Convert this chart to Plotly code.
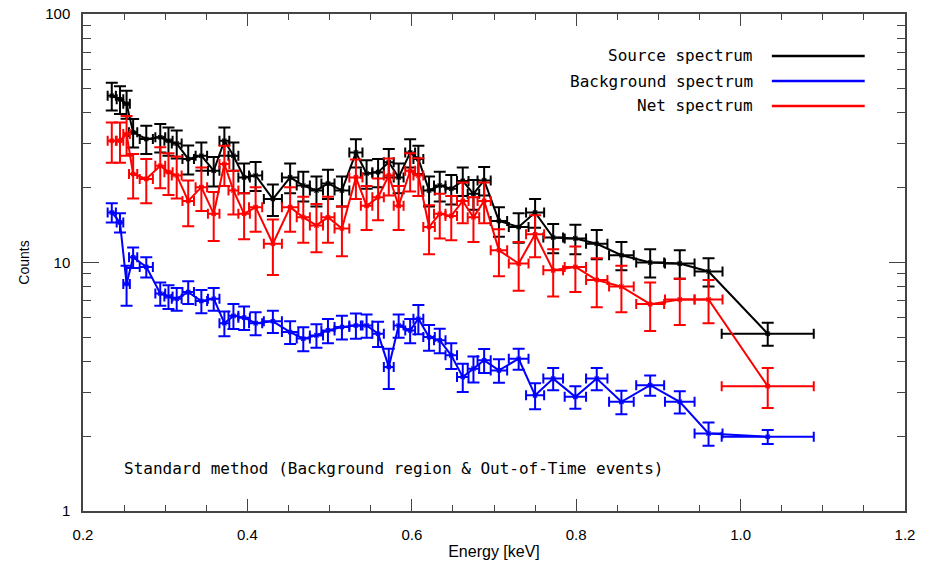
import plotly.graph_objects as go

energy = [0.235, 0.245, 0.253, 0.261, 0.277, 0.294, 0.304, 0.314, 0.328, 0.344,
          0.359, 0.372, 0.383, 0.396, 0.410, 0.431, 0.452, 0.468, 0.484, 0.498,
          0.515, 0.532, 0.545, 0.559, 0.572, 0.584, 0.598, 0.608, 0.621, 0.634,
          0.648, 0.662, 0.675, 0.688, 0.706, 0.730, 0.750, 0.772, 0.799, 0.825,
          0.855, 0.890, 0.926, 0.961, 1.033]
energy_err = [0.005, 0.004, 0.004, 0.005, 0.008, 0.006, 0.005, 0.006, 0.007, 0.007,
              0.007, 0.006, 0.006, 0.007, 0.008, 0.011, 0.010, 0.008, 0.008, 0.008,
              0.009, 0.008, 0.007, 0.007, 0.006, 0.006, 0.006, 0.006, 0.007, 0.007,
              0.007, 0.007, 0.007, 0.008, 0.010, 0.012, 0.011, 0.012, 0.013, 0.013,
              0.015, 0.017, 0.018, 0.017, 0.056]

source = [46.9, 45.4, 43.5, 33.4, 31.4, 31.9, 30.9, 30.1, 26.1, 26.9,
          23.4, 30.9, 26.9, 22.0, 22.4, 18.0, 22.0, 20.4, 19.5, 20.8,
          19.5, 27.7, 22.8, 23.1, 25.3, 22.0, 27.7, 26.1, 19.5, 20.4,
          19.8, 21.3, 18.9, 21.4, 14.7, 13.9, 15.9, 12.6, 12.5, 11.9,
          10.7, 10.0, 9.9, 9.2, 5.17]
source_err = [6.0, 5.8, 5.6, 4.4, 4.1, 4.2, 4.0, 3.9, 3.5, 3.5,
              3.2, 4.0, 3.5, 3.0, 3.0, 2.6, 3.0, 2.8, 2.7, 2.8,
              2.7, 3.6, 3.0, 3.0, 3.3, 3.0, 3.6, 3.4, 2.7, 2.8,
              2.7, 2.8, 2.6, 2.8, 2.0, 1.9, 2.1, 1.7, 1.7, 1.6,
              1.4, 1.3, 1.3, 1.2, 0.55]

background = [15.9, 14.5, 8.2, 10.5, 9.6, 7.5, 7.3, 7.15, 7.6, 7.0,
              7.15, 5.7, 6.1, 6.0, 5.7, 5.8, 5.25, 4.94, 5.09, 5.33,
              5.5, 5.58, 5.58, 5.17, 3.8, 5.58, 5.33, 5.94, 5.01, 4.86,
              4.23, 3.46, 3.74, 4.04, 3.68, 4.1, 2.92, 3.41, 2.88, 3.41,
              2.75, 3.21, 2.75, 2.05, 1.99]
background_err = [1.4, 1.3, 1.5, 1.0, 0.9, 0.8, 0.8, 0.75, 0.8, 0.75,
                  0.75, 0.65, 0.7, 0.65, 0.6, 0.6, 0.55, 0.55, 0.55, 0.6,
                  0.6, 0.65, 0.6, 0.6, 0.7, 0.6, 0.6, 0.8, 0.6, 0.55,
                  0.5, 0.45, 0.45, 0.45, 0.4, 0.4, 0.35, 0.35, 0.3, 0.35,
                  0.3, 0.3, 0.28, 0.22, 0.13]

net = [30.9, 30.9, 32.9, 22.7, 21.7, 24.5, 23.1, 22.4, 17.7, 20.1,
       15.7, 24.9, 19.5, 15.7, 16.7, 11.9, 16.7, 15.2, 14.1, 15.2,
       13.7, 22.0, 16.9, 18.3, 22.4, 16.9, 23.4, 22.4, 13.9, 15.7,
       15.4, 17.7, 15.2, 17.7, 11.2, 9.9, 13.0, 9.3, 9.6, 8.5,
       8.0, 6.8, 7.1, 7.1, 3.18]
net_err = [5.7, 5.7, 6.0, 4.6, 4.4, 4.6, 4.4, 4.3, 3.7, 4.0,
           3.5, 4.6, 3.9, 3.3, 3.4, 3.0, 3.4, 3.2, 3.1, 3.2,
           3.1, 4.0, 3.4, 3.5, 3.8, 3.4, 4.1, 3.9, 3.1, 3.2,
           3.1, 3.3, 3.1, 3.3, 2.4, 2.2, 2.5, 2.0, 2.0, 1.9,
           1.7, 1.5, 1.5, 1.4, 0.58]

series = [
    ("Source spectrum", source, source_err, "#000000"),
    ("Background spectrum", background, background_err, "#0000ff"),
    ("Net spectrum", net, net_err, "#ff0000"),
]

fig = go.Figure()
for name, vals, errs, col in series:
    fig.add_trace(go.Scatter(
        x=energy, y=vals, name=name, mode="lines+markers",
        line=dict(color=col, width=2),
        marker=dict(symbol="asterisk-open", size=5, color=col, line=dict(color=col, width=1.2)),
        error_x=dict(type="data", array=energy_err, color=col, thickness=2, width=5),
        error_y=dict(type="data", array=errs, color=col, thickness=2, width=6),
        showlegend=False,
    ))

axis_col = "#444444"
fig.update_xaxes(
    range=[0.2, 1.2], tickvals=[0.2, 0.4, 0.6, 0.8, 1.0, 1.2],
    ticktext=["0.2", "0.4", "0.6", "0.8", "1.0", "1.2"],
    ticks="inside", ticklen=12, tickcolor=axis_col, tickwidth=1,
    minor=dict(ticks="inside", ticklen=6, dtick=0.05, tickcolor=axis_col, showgrid=False),
    showline=True, linecolor=axis_col, linewidth=1.5, mirror="ticks",
    showgrid=False, zeroline=False, automargin=False, ticklabelstandoff=9,
    title=dict(text="Energy [keV]", font=dict(size=16, family="Liberation Sans", color="#000"), standoff=4),
    tickfont=dict(size=15, family="Liberation Sans", color="#000"),
)
fig.update_yaxes(
    type="log", range=[0, 2], tickvals=[1, 10, 100], ticktext=["1", "10", "100"],
    ticks="inside", ticklen=16, tickcolor=axis_col, tickwidth=1,
    minor=dict(ticks="inside", ticklen=8, dtick="D1", tickcolor=axis_col, showgrid=False),
    showline=True, linecolor=axis_col, linewidth=1.5, mirror="ticks",
    showgrid=False, zeroline=False, automargin=False, ticklabelstandoff=8,
    title=dict(text="Counts", font=dict(size=14, family="Liberation Sans", color="#000"), standoff=12),
    tickfont=dict(size=15, family="Liberation Sans", color="#000"),
)

legend_rows = [(0.9155, "Source spectrum", "#000000"),
               (0.865, "Background spectrum", "#0000ff"),
               (0.815, "Net spectrum", "#ff0000")]
annotations = []
shapes = []
for yy, txt, col in legend_rows:
    annotations.append(dict(x=0.8175, y=yy, xref="paper", yref="paper", text=txt,
                            showarrow=False, xanchor="right", yanchor="middle",
                            font=dict(family="DejaVu Sans Mono", size=16, color="#000")))
    shapes.append(dict(type="line", xref="paper", yref="paper", x0=0.838, x1=0.951,
                       y0=yy, y1=yy, line=dict(color=col, width=2.5)))
annotations.append(dict(x=0.0474, y=0.0865, xref="paper", yref="paper",
                        text="Standard method (Background region & Out-of-Time events)",
                        showarrow=False, xanchor="left", yanchor="middle",
                        font=dict(family="DejaVu Sans Mono", size=16, color="#000")))

fig.update_layout(
    width=930, height=563,
    margin=dict(l=83, r=25, t=14, b=52),
    plot_bgcolor="white", paper_bgcolor="white",
    annotations=annotations, shapes=shapes,
)
fig.write_html("out.html", config={"displayModeBar": False},
               post_script="document.body.style.margin='0px';document.body.style.overflow='hidden';")
